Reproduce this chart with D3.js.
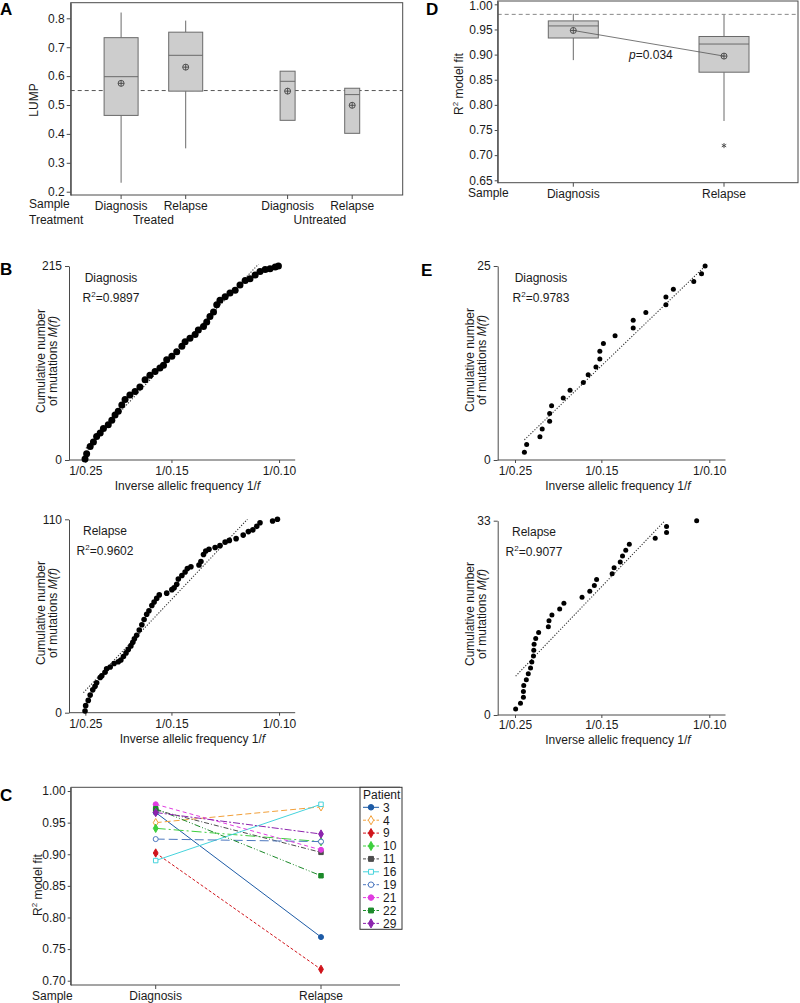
<!DOCTYPE html>
<html><head><meta charset="utf-8">
<script src="https://cdn.jsdelivr.net/npm/d3@7"></script>
<style>
body{margin:0;background:#fff}
svg{display:block}
</style></head><body>
<script>
// ================= DATA =================
// Panel A: LUMP box plots
const lumpSample = ["Diagnosis", "Relapse", "Diagnosis", "Relapse"];
const lumpTreatment = ["Treated", "Treated", "Untreated", "Untreated"];
const lumpWhiskerHigh = [0.820, 0.792, null, null];
const lumpQ3 = [0.733, 0.752, 0.617, 0.558];
const lumpMedian = [0.598, 0.672, 0.582, 0.536];
const lumpQ1 = [0.464, 0.548, 0.447, 0.402];
const lumpWhiskerLow = [0.231, 0.350, null, null];
const lumpMean = [0.575, 0.631, 0.548, 0.499];
const lumpReference = 0.55;
const lumpTicks = [0.2, 0.3, 0.4, 0.5, 0.6, 0.7, 0.8];

// Panel D: R2 model fit box plots
const fitSample = ["Diagnosis", "Relapse"];
const fitWhiskerHigh = [0.981, 0.979];
const fitQ3 = [0.967, 0.936];
const fitMedian = [0.957, 0.921];
const fitQ1 = [0.933, 0.865];
const fitWhiskerLow = [0.889, 0.768];
const fitMean = [0.948, 0.897];
const fitOutlier = [null, 0.719];
const fitReference = 0.98;
const fitPValue = "0.034";
const fitTicks = [0.65, 0.70, 0.75, 0.80, 0.85, 0.90, 0.95, 1.00];

// Panel C: per-patient R2 model fit
const patients = ["3", "4", "9", "10", "11", "16", "19", "21", "22", "29"];
const patientDiagnosis = [0.966, 0.950, 0.902, 0.941, 0.970, 0.890, 0.924, 0.979, 0.972, 0.966];
const patientRelapse   = [0.769, 0.975, 0.718, 0.920, 0.903, 0.979, 0.920, 0.907, 0.866, 0.932];
const patientTicks = [0.70, 0.75, 0.80, 0.85, 0.90, 0.95, 1.00];

// Panels B & E: cumulative mutations vs inverse allelic frequency (x = 1/f)
const invFTicks = [4, 1 / 0.15, 10];
const invFTickLabels = ["1/0.25", "1/0.15", "1/0.10"];

const bDiagInvF = [3.99,4.04,4.15,4.25,4.35,4.46,4.56,4.71,4.82,4.92,5.02,5.13,5.23,5.38,5.54,5.69,5.85,6.00,6.16,6.31,6.42,6.52,6.68,6.83,6.99,7.09,7.24,7.40,7.50,7.66,7.76,7.86,7.97,8.07,8.17,8.33,8.48,8.64,8.79,8.95,9.10,9.26,9.41,9.57,9.72,9.88,9.98];
const bDiagCount = [1,7,15,20,26,30,35,39,44,50,54,61,67,72,76,81,89,94,98,102,105,111,115,120,126,131,135,139,144,148,153,159,164,172,177,181,185,188,194,199,201,205,209,211,212,214,215];
const bDiagMax = 215;
const bDiagFitX = [4.02, 9.36];
const bDiagFitY = [13, 217];
const bDiagR2 = "0.9897";

const bRelInvF = [3.99,4.01,4.09,4.15,4.23,4.30,4.35,4.46,4.51,4.61,4.66,4.77,4.89,5.02,5.10,5.18,5.26,5.33,5.41,5.47,5.52,5.59,5.67,5.75,5.82,5.90,5.97,6.06,6.13,6.21,6.29,6.52,6.68,6.75,6.83,6.88,6.99,7.09,7.16,7.27,7.52,7.58,7.66,7.73,7.83,8.02,8.17,8.33,8.46,8.67,8.89,9.05,9.19,9.31,9.41,9.80,9.95];
const bRelCount = [1,4,7,10,13,15,17,20,21,23,25,26,28,29,30,32,34,36,38,40,42,44,47,50,53,56,58,61,63,65,67,68,70,71,73,76,78,80,82,83,84,86,90,92,93,94,95,97,98,99,101,103,104,106,108,109,110];
const bRelMax = 110;
const bRelFitX = [3.94, 9.02];
const bRelFitY = [11.4, 110];
const bRelR2 = "0.9602";

const eDiagInvF = [4.29,4.36,4.77,4.84,5.07,5.07,5.13,5.49,5.70,6.11,6.26,6.50,6.62,6.62,6.73,7.09,7.65,7.65,8.04,8.66,8.66,8.89,9.52,9.76,9.87];
const eDiagCount = [1,2,3,4,5,6,7,8,9,10,11,12,13,14,15,16,17,18,19,20,21,22,23,24,25];
const eDiagMax = 25;
const eDiagFitX = [4.29, 9.85];
const eDiagFitY = [2.6, 24.9];
const eDiagR2 = "0.9783";

const eRelInvF = [4.02,4.17,4.26,4.26,4.27,4.35,4.41,4.48,4.52,4.57,4.58,4.59,4.64,4.73,5.03,5.05,5.14,5.38,5.51,6.07,6.31,6.45,6.52,7.00,7.06,7.25,7.32,7.42,7.53,8.33,8.68,8.68,9.61];
const eRelCount = [1,2,3,4,5,6,7,8,9,10,11,12,13,14,15,16,17,18,19,20,21,22,23,24,25,26,27,28,29,30,31,32,33];
const eRelMax = 33;
const eRelFitX = [4.02, 8.63];
const eRelFitY = [6.6, 33];
const eRelR2 = "0.9077";

// ================= DRAWING =================
const FONT = '"Liberation Sans", Arial, Helvetica, sans-serif';
const AX = "#4a4a4a", TXT = "#1a1a1a";
const svg = d3.select("body").append("svg").attr("width", 800).attr("height", 1003)
  .style("font-family", FONT);

function styleAxis(g) {
  g.attr("font-size", 12).attr("font-family", FONT);
  g.selectAll(".domain").attr("stroke", AX);
  g.selectAll(".tick line").attr("stroke", AX);
  g.selectAll(".tick text").attr("fill", TXT);
}
function text(x, y, s, anchor) {
  return svg.append("text").attr("x", x).attr("y", y).attr("font-size", 12)
    .attr("fill", TXT).attr("text-anchor", anchor || "start").text(s);
}
function letter(x, y, s) {
  svg.append("text").attr("x", x).attr("y", y).attr("font-size", 17).attr("font-weight", "bold")
    .attr("fill", "#000").text(s);
}
function vLabel(x, y, s) {
  return svg.append("text").attr("transform", `translate(${x},${y}) rotate(-90)`)
    .attr("font-size", 12).attr("fill", TXT).attr("text-anchor", "middle").text(s);
}
function r2Label(x, y, s) {
  const t = vLabel(x, y, "");
  t.append("tspan").text("R");
  t.append("tspan").attr("font-size", 8).attr("dy", -5).text("2");
  t.append("tspan").attr("dy", 5).text(s);
}
function meanMark(g, cx, cy) {
  g.append("circle").attr("cx", cx).attr("cy", cy).attr("r", 3).attr("fill", "none").attr("stroke", "#444").attr("stroke-width", 0.9);
  g.append("line").attr("x1", cx - 3).attr("x2", cx + 3).attr("y1", cy).attr("y2", cy).attr("stroke", "#444").attr("stroke-width", 0.9);
  g.append("line").attr("x1", cx).attr("x2", cx).attr("y1", cy - 3).attr("y2", cy + 3).attr("stroke", "#444").attr("stroke-width", 0.9);
}
function drawBox(g, cx, w, y, q1, med, q3, lo, hi, mean) {
  const st = "#6a6a6a";
  if (hi != null) g.append("line").attr("x1", cx).attr("x2", cx).attr("y1", y(q3)).attr("y2", y(hi)).attr("stroke", st);
  if (lo != null) g.append("line").attr("x1", cx).attr("x2", cx).attr("y1", y(q1)).attr("y2", y(lo)).attr("stroke", st);
  g.append("rect").attr("x", cx - w / 2).attr("y", y(q3)).attr("width", w).attr("height", y(q1) - y(q3))
    .attr("fill", "#cdcdcd").attr("stroke", st).attr("stroke-width", 1);
  g.append("line").attr("x1", cx - w / 2).attr("x2", cx + w / 2).attr("y1", y(med)).attr("y2", y(med)).attr("stroke", st);
  meanMark(g, cx, y(mean));
}

// ---------- Panel A ----------
{
  const L = 70.7, R = 402.7, T = 2.7, B = 195;
  const y = d3.scaleLinear().domain([0.1886, 0.854]).range([B, T]);
  const outer = d3.scalePoint().domain(["Treated", "Untreated"]).range([153.4, 319.9]);
  const inner = d3.scalePoint().domain(["Diagnosis", "Relapse"]).range([-32.3, 32.3]);
  const xA = i => outer(lumpTreatment[i]) + inner(lumpSample[i]);
  const boxW = t => t === "Treated" ? 34 : 15;
  const g = svg.append("g");
  g.append("rect").attr("x", L).attr("y", T).attr("width", R - L).attr("height", B - T).attr("fill", "none").attr("stroke", AX);
  g.append("line").attr("x1", L).attr("x2", R).attr("y1", y(lumpReference)).attr("y2", y(lumpReference))
    .attr("stroke", "#555").attr("stroke-dasharray", "4,3");
  lumpSample.forEach((s, i) => {
    drawBox(g, xA(i), boxW(lumpTreatment[i]), y, lumpQ1[i], lumpMedian[i], lumpQ3[i], lumpWhiskerLow[i], lumpWhiskerHigh[i], lumpMean[i]);
    g.append("line").attr("x1", xA(i)).attr("x2", xA(i)).attr("y1", B).attr("y2", B + 4).attr("stroke", AX);
    text(xA(i), 210, s, "middle");
  });
  const ax = g.append("g").attr("transform", `translate(${L},0)`)
    .call(d3.axisLeft(y).tickValues(lumpTicks).tickFormat(d3.format(".1f")).tickSize(4).tickPadding(2).tickSizeOuter(0));
  styleAxis(ax);
  text(29, 208, "Sample");
  text(29, 224, "Treatment");
  outer.domain().forEach(t => text(outer(t), 224, t, "middle"));
  vLabel(38, 100, "LUMP");
  letter(0, 15, "A");
}

// ---------- Panel D ----------
{
  const L = 497.7, R = 798, T = 1, B = 182.7;
  const y = d3.scaleLinear().domain([0.6452, 1.0066]).range([B, T]);
  const x = d3.scalePoint().domain(fitSample).range([573.3, 724]);
  const g = svg.append("g");
  g.append("rect").attr("x", L).attr("y", T).attr("width", R - L).attr("height", B - T).attr("fill", "none").attr("stroke", AX);
  g.append("line").attr("x1", L).attr("x2", R).attr("y1", y(fitReference)).attr("y2", y(fitReference))
    .attr("stroke", "#888").attr("stroke-dasharray", "4,3");
  fitSample.forEach((s, i) => {
    drawBox(g, x(s), 50, y, fitQ1[i], fitMedian[i], fitQ3[i], fitWhiskerLow[i], fitWhiskerHigh[i], fitMean[i]);
    if (fitOutlier[i] != null)
      g.append("path").attr("d", d3.symbol(d3.symbolAsterisk, 18)()).attr("transform", `translate(${x(s)},${y(fitOutlier[i])})`)
        .attr("stroke", "#444").attr("fill", "none").attr("stroke-width", 0.9);
    g.append("line").attr("x1", x(s)).attr("x2", x(s)).attr("y1", B).attr("y2", B + 4).attr("stroke", AX);
    text(x(s), 198, s, "middle");
  });
  g.append("line").attr("x1", x(fitSample[0])).attr("x2", x(fitSample[1]))
    .attr("y1", y(fitMean[0])).attr("y2", y(fitMean[1])).attr("stroke", "#555").attr("stroke-width", 0.8);
  const pt = text(629, 59, "");
  pt.append("tspan").attr("font-style", "italic").text("p");
  pt.append("tspan").text("=" + fitPValue);
  const ax = g.append("g").attr("transform", `translate(${L},0)`)
    .call(d3.axisLeft(y).tickValues(fitTicks).tickFormat(d3.format(".2f")).tickSize(3).tickPadding(2).tickSizeOuter(0));
  styleAxis(ax);
  ax.selectAll(".tick text").filter(d => d === 1).attr("dy", "0.45em");
  text(468, 197, "Sample");
  r2Label(463, 84, " model fit");
  letter(426, 15, "D");
}

// ---------- Panels B & E ----------
function scatterPanel(o) {
  const x = d3.scaleLinear().domain([3.5, 10.5]).range(o.xr);
  const y = d3.scaleLinear().domain([0, o.max]).range(o.yr);
  const g = svg.append("g");
  const ya = g.append("g").attr("transform", `translate(${o.ax},0)`)
    .call(d3.axisLeft(y).tickValues([0, o.max]).tickSize(4).tickPadding(3).tickSizeOuter(0));
  styleAxis(ya);
  const xa = g.append("g").attr("transform", `translate(0,${o.yr[0]})`)
    .call(d3.axisBottom(x).tickValues(invFTicks).tickFormat((d, i) => invFTickLabels[i]).tickSize(3).tickPadding(o.tp).tickSizeOuter(0));
  styleAxis(xa);
  xa.select(".domain").attr("d", `M${o.ax},0H${o.xr[1]}`);
  g.append("line").attr("x1", x(o.fitX[0])).attr("x2", x(o.fitX[1])).attr("y1", y(o.fitY[0])).attr("y2", y(o.fitY[1]))
    .attr("stroke", "#333").attr("stroke-width", 1.1).attr("stroke-dasharray", "1.2,1.6");
  g.selectAll("circle.pt").data(o.xs.map((v, i) => [v, o.ys[i]])).join("circle").attr("class", "pt")
    .attr("cx", d => x(d[0])).attr("cy", d => y(d[1])).attr("r", o.r).attr("fill", "#000");
  text(o.lc, o.ly, o.label, "middle");
  const rt = text(o.lc, o.ly + 20, "", "middle");
  rt.append("tspan").text("R");
  rt.append("tspan").attr("font-size", 8).attr("dy", -5).text("2");
  rt.append("tspan").attr("dy", 5).text("=" + o.r2);
  const tt = text(o.tc, o.ty, "Inverse allelic frequency 1/", "middle");
  tt.append("tspan").attr("font-style", "italic").text("f");
  vLabel(o.ax - 24, o.vc, "Cumulative number");
  const v2 = vLabel(o.ax - 12, o.vc, "of mutations ");
  v2.append("tspan").attr("font-style", "italic").text("M(f)");
}
scatterPanel({ xr: [69.2, 295.2], yr: [460, 266], ax: 69, max: bDiagMax, xs: bDiagInvF, ys: bDiagCount, fitX: bDiagFitX, fitY: bDiagFitY,
  r: 3.5, label: "Diagnosis", r2: bDiagR2, lc: 111, ly: 282, tc: 187.5, ty: 490, vc: 361, tp: 3.5 });
scatterPanel({ xr: [69.2, 295.2], yr: [712.7, 519.3], ax: 69, max: bRelMax, xs: bRelInvF, ys: bRelCount, fitX: bRelFitX, fitY: bRelFitY,
  r: 2.8, label: "Relapse", r2: bRelR2, lc: 105, ly: 535, tc: 192.5, ty: 743, vc: 613, tp: 3.5 });
scatterPanel({ xr: [498.8, 725.5], yr: [460, 266], ax: 497.7, max: eDiagMax, xs: eDiagInvF, ys: eDiagCount, fitX: eDiagFitX, fitY: eDiagFitY,
  r: 2.5, label: "Diagnosis", r2: eDiagR2, lc: 541, ly: 282, tc: 618, ty: 490, vc: 360, tp: 3.5 });
scatterPanel({ xr: [498.8, 725.5], yr: [715, 520.7], ax: 497.7, max: eRelMax, xs: eRelInvF, ys: eRelCount, fitX: eRelFitX, fitY: eRelFitY,
  r: 2.5, label: "Relapse", r2: eRelR2, lc: 534, ly: 536, tc: 618, ty: 744, vc: 614, tp: 2.5 });
letter(0, 275, "B");
letter(421, 276, "E");

// ---------- Panel C ----------
{
  const L = 70.7, R = 400, T = 787.3, B = 985;
  const y = d3.scaleLinear().domain([0.6932, 1.0059]).range([B, T]);
  const x = d3.scalePoint().domain(["Diagnosis", "Relapse"]).range([155.7, 321]);
  const styles = {
    "3":  { c: "#1d5ba6", d: null, s: d3.symbolCircle, open: false },
    "4":  { c: "#f2a03a", d: "6,3", s: d3.symbolDiamond, open: true },
    "9":  { c: "#d0141b", d: "3,2", s: d3.symbolDiamond, open: false },
    "10": { c: "#3ecf3e", d: "10,3,2,3", s: d3.symbolDiamond, open: false },
    "11": { c: "#4d4d4d", d: "5,2,1,2", s: d3.symbolSquare, open: false },
    "16": { c: "#45d3dc", d: null, s: d3.symbolSquare, open: true },
    "19": { c: "#4d78bf", d: "9,4", s: d3.symbolCircle, open: true },
    "21": { c: "#e03ce0", d: "4,3", s: d3.symbolCircle, open: false },
    "22": { c: "#1c8a2a", d: "6,2,1,2,1,2", s: d3.symbolSquare, open: false },
    "29": { c: "#8c24ad", d: "7,2,2,2", s: d3.symbolDiamond, open: false }
  };
  const g = svg.append("g");
  g.append("path").attr("d", `M${R},${T}H${L}V${B}H${R}`).attr("fill", "none").attr("stroke", AX);
  const marker = (p, cx, cy, size) => {
    const st = styles[p];
    g.append("path").attr("d", d3.symbol(st.s, size)()).attr("transform", `translate(${cx},${cy})`)
      .attr("fill", st.open ? "#fff" : st.c).attr("stroke", st.c).attr("stroke-width", 1);
  };
  patients.forEach((p, i) => {
    const st = styles[p];
    g.append("line").attr("x1", x("Diagnosis")).attr("x2", x("Relapse"))
      .attr("y1", y(patientDiagnosis[i])).attr("y2", y(patientRelapse[i]))
      .attr("stroke", st.c).attr("stroke-width", 1).attr("stroke-dasharray", st.d);
  });
  patients.forEach((p, i) => {
    marker(p, x("Diagnosis"), y(patientDiagnosis[i]), 20);
    marker(p, x("Relapse"), y(patientRelapse[i]), 20);
  });
  x.domain().forEach(s => {
    g.append("line").attr("x1", x(s)).attr("x2", x(s)).attr("y1", B).attr("y2", B + 4).attr("stroke", AX);
    text(x(s), 1000, s, "middle");
  });
  const ax = g.append("g").attr("transform", `translate(${L},0)`)
    .call(d3.axisLeft(y).tickValues(patientTicks).tickFormat(d3.format(".2f")).tickSize(3).tickPadding(2).tickSizeOuter(0));
  styleAxis(ax);
  text(32, 1000, "Sample");
  r2Label(41.5, 885, " model fit");
  // legend
  const lg = svg.append("g");
  lg.append("rect").attr("x", 360).attr("y", T).attr("width", 42).attr("height", 142).attr("fill", "#fff").attr("stroke", "#333");
  lg.append("text").attr("x", 363).attr("y", 799).attr("font-size", 12).attr("fill", TXT).text("Patient");
  patients.forEach((p, i) => {
    const cy = 807.3 + i * 12.9, st = styles[p];
    lg.append("line").attr("x1", 363).attr("x2", 379).attr("y1", cy).attr("y2", cy)
      .attr("stroke", st.c).attr("stroke-dasharray", st.d ? "3,1.5" : null);
    lg.append("path").attr("d", d3.symbol(st.s, 24)()).attr("transform", `translate(${371},${cy})`)
      .attr("fill", st.open ? "#fff" : st.c).attr("stroke", st.c);
    lg.append("text").attr("x", 383).attr("y", cy).attr("dy", "0.36em").attr("font-size", 12).attr("fill", TXT).text(p);
  });
  letter(0, 801, "C");
}
</script>
</body></html>
